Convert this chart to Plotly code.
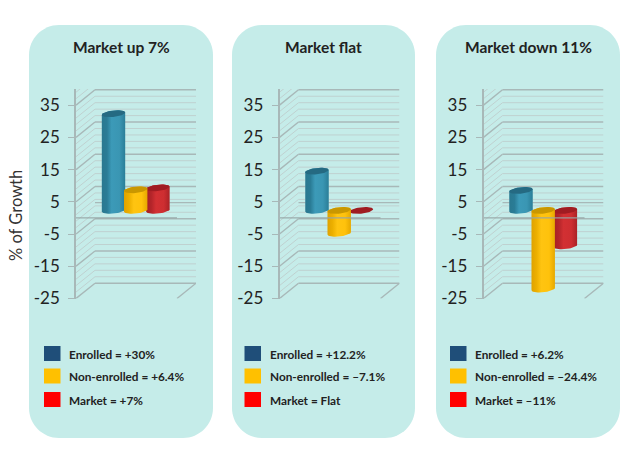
import numpy as np
import plotly.graph_objects as go

# ---- data ----
panel_titles = ["Market up 7%", "Market flat", "Market down 11%"]
series_names = ["Enrolled", "Non-enrolled", "Market"]
enrolled = [30, 12.2, 6.2]
non_enrolled = [6.4, -7.1, -24.4]
market = [7, 0, -11]
legend_enrolled = ["Enrolled = +30%", "Enrolled = +12.2%", "Enrolled = +6.2%"]
legend_non = ["Non-enrolled = +6.4%", "Non-enrolled = –7.1%", "Non-enrolled = –24.4%"]
legend_market = ["Market = +7%", "Market = Flat", "Market = –11%"]
y_ticks = [35, 25, 15, 5, -5, -15, -25]
y_title = "% of Growth"

# ---- layout constants (pixels in the 633x460 page) ----
W, H = 633, 460
FONT = "Lato"
panel_boxes = [(29, 213), (232, 415), (436, 620)]
legend_left = [44, 244.5, 450]
PANEL_TOP, PANEL_BOTTOM, RADIUS = 25, 438, 30
axis_left = [76, 279.5, 483.5]
DOMAIN_W = 120
Y_TOP_PX, Y_BOT_PX = 89.0, 298.5
Y_MIN, Y_MAX = -25, 40
PX_PER_UNIT = (Y_BOT_PX - Y_TOP_PX) / (Y_MAX - Y_MIN)
X_UNIT = 22.2
FIRST_CENTER = 37.5
x0 = -FIRST_CENTER / X_UNIT
x1 = (DOMAIN_W - FIRST_CENTER) / X_UNIT
DEPTH_X = 19 / X_UNIT
DEPTH_Y = 15.3 / PX_PER_UNIT
WALL_W = 101 / X_UNIT
LIFT = 7.5 / PX_PER_UNIT
HALF_W = 11.7 / X_UNIT
HALF_H = 3.2 / PX_PER_UNIT
TILT = 1.2 / PX_PER_UNIT

MINOR = "#BFD1D0"
MAJOR = "#A8B8B8"
INK = "#222222"

styles = {
    "Enrolled": dict(swatch="#1F4E79", cap="#256A82", grad=["#2A7890", "#2A7C96", "#3C9AB8", "#3A96B3", "#2A7E98"]),
    "Non-enrolled": dict(swatch="#FFC000", cap="#C99700", grad=["#DFA200", "#EDB000", "#FFC411", "#FFC20C", "#E6A800"]),
    "Market": dict(swatch="#FF0000", cap="#A01C22", grad=["#A52024", "#B4252A", "#D23033", "#CE2E31", "#AA2226"]),
}


def fx(px):
    return px / W


def fy(px):
    return 1 - px / H


def rounded(xa, xb, ya, yb, r):
    k = 0.45 * r
    return (
        f"M {fx(xa + r)} {fy(ya)} L {fx(xb - r)} {fy(ya)} "
        f"C {fx(xb - k)} {fy(ya)} {fx(xb)} {fy(ya + k)} {fx(xb)} {fy(ya + r)} "
        f"L {fx(xb)} {fy(yb - r)} "
        f"C {fx(xb)} {fy(yb - k)} {fx(xb - k)} {fy(yb)} {fx(xb - r)} {fy(yb)} "
        f"L {fx(xa + r)} {fy(yb)} "
        f"C {fx(xa + k)} {fy(yb)} {fx(xa)} {fy(yb - k)} {fx(xa)} {fy(yb - r)} "
        f"L {fx(xa)} {fy(ya + r)} "
        f"C {fx(xa)} {fy(ya + k)} {fx(xa + k)} {fy(ya)} {fx(xa + r)} {fy(ya)} Z"
    )


def segments(pairs):
    xs, ys = [], []
    for (a, b), (c, d) in pairs:
        xs += [a, c, None]
        ys += [b, d, None]
    return xs, ys


fig = go.Figure()
shapes, annotations = [], []
layout_axes = {}

for p, title in enumerate(panel_titles):
    suffix = "" if p == 0 else str(p + 1)
    xref, yref = f"x{suffix}", f"y{suffix}"
    left = axis_left[p]
    layout_axes[f"xaxis{suffix}"] = dict(
        domain=[fx(left), fx(left + DOMAIN_W)], range=[x0, x1], anchor=yref,
        visible=False, fixedrange=True, automargin=False,
    )
    layout_axes[f"yaxis{suffix}"] = dict(
        domain=[fy(Y_BOT_PX), fy(Y_TOP_PX)], range=[Y_MIN, Y_MAX], anchor=xref,
        tickmode="array", tickvals=y_ticks, ticktext=[str(t) for t in y_ticks],
        ticks="outside", ticklen=6, tickcolor=MAJOR, tickwidth=1,
        ticklabelstandoff=5, automargin=False,
        tickfont=dict(family=FONT, size=17, color=INK),
        showgrid=False, zeroline=False, showline=True, linecolor=MAJOR, linewidth=1.5,
    )

    # panel + title + legend
    xa, xb = panel_boxes[p]
    shapes.append(dict(type="path", xref="paper", yref="paper", layer="below",
                       path=rounded(xa, xb, PANEL_TOP, PANEL_BOTTOM, RADIUS),
                       fillcolor="#C5ECE9", line=dict(width=0)))
    annotations.append(dict(xref="paper", yref="paper", x=fx((xa + xb) / 2), y=fy(47),
                            xanchor="center", yanchor="middle",
                            text=f"<b>{title}</b>", showarrow=False,
                            font=dict(family=FONT, size=15.5, color=INK)))
    sw_left = legend_left[p]
    rows = [(legend_enrolled[p], "Enrolled", 346), (legend_non[p], "Non-enrolled", 368.5),
            (legend_market[p], "Market", 392)]
    for label, name, top in rows:
        shapes.append(dict(type="rect", xref="paper", yref="paper", layer="above",
                           x0=fx(sw_left), x1=fx(sw_left + 16.5), y0=fy(top), y1=fy(top + 15),
                           fillcolor=styles[name]["swatch"], line=dict(width=0)))
        annotations.append(dict(xref="paper", yref="paper", x=fx(sw_left + 25), y=fy(top + 8),
                                xanchor="left", yanchor="middle", text=f"<b>{label}</b>", showarrow=False,
                                borderpad=0, borderwidth=0,
                                font=dict(family=FONT, size=11.8, color=INK)))

    # walls
    levels = list(range(-25, 40, 2))
    back_l, back_r = x0 + DEPTH_X, x0 + DEPTH_X + WALL_W
    minor_lines = []
    major_lines = []
    for v in levels:
        target = major_lines if (v + 25) % 10 == 0 else minor_lines
        target.append(((x0, v), (back_l, v + DEPTH_Y)))
        target.append(((back_l, v + DEPTH_Y), (back_r, v + DEPTH_Y)))
    major_lines.append(((back_l, DEPTH_Y), (back_r, DEPTH_Y)))
    major_lines.append(((back_r - DEPTH_X, Y_MIN), (back_r, Y_MIN + DEPTH_Y)))
    for lines, color, width in ((minor_lines, MINOR, 1), (major_lines, MAJOR, 1.4)):
        sx, sy = segments(lines)
        fig.add_trace(go.Scatter(x=sx, y=sy, mode="lines", xaxis=xref, yaxis=yref,
                                 line=dict(color=color, width=width), cliponaxis=False,
                                 showlegend=False, hoverinfo="skip"))

    # cylinders
    values = {"Enrolled": enrolled[p], "Non-enrolled": non_enrolled[p], "Market": market[p]}
    positions = {name: i for i, name in enumerate(series_names)}
    for name in ("Market", "Enrolled", "Non-enrolled"):
        v, pos, st = values[name], positions[name], styles[name]
        fig.add_trace(go.Bar(x=[pos], y=[v], base=[LIFT], width=2 * HALF_W * 0.96,
                             xaxis=xref, yaxis=yref, name=name, showlegend=False,
                             marker=dict(color=st["grad"][2], line=dict(width=0))))
        lo, hi = min(LIFT, LIFT + v), max(LIFT, LIFT + v)
        t = np.linspace(np.pi, 2 * np.pi, 24)
        cx, cy = np.cos(t), np.sin(t)
        bx = pos + HALF_W * cx
        by = lo + HALF_H * cy + TILT * cx
        tx = pos - HALF_W * cx
        ty = hi - HALF_H * cy - TILT * cx
        if v != 0:
            fig.add_trace(go.Scatter(
                x=np.r_[bx, tx], y=np.r_[by, ty], mode="lines", fill="toself",
                xaxis=xref, yaxis=yref, line=dict(width=0), showlegend=False,
                hoverinfo="skip", cliponaxis=False,
                fillgradient=dict(type="horizontal", colorscale=[
                    [0, st["grad"][0]], [0.22, st["grad"][1]], [0.42, st["grad"][2]],
                    [0.75, st["grad"][3]], [1, st["grad"][4]]]),
            ))
        e = np.linspace(0, 2 * np.pi, 48)
        fig.add_trace(go.Scatter(
            x=pos + HALF_W * np.cos(e), y=hi + HALF_H * np.sin(e) + TILT * np.cos(e),
            mode="lines", fill="toself", fillcolor=st["cap"], line=dict(width=0),
            xaxis=xref, yaxis=yref, showlegend=False, hoverinfo="skip", cliponaxis=False,
        ))

    # front zero line sits over the cylinders
    sx, sy = segments([((x0, 0), (x0 + WALL_W, 0))])
    fig.add_trace(go.Scatter(x=sx, y=sy, mode="lines", xaxis=xref, yaxis=yref,
                             line=dict(color="rgba(150,165,165,0.9)", width=1.4),
                             cliponaxis=False, showlegend=False, hoverinfo="skip"))

annotations.append(dict(xref="paper", yref="paper", x=fx(16), y=fy(216), text=y_title,
                        xanchor="center", yanchor="middle",
                        textangle=-90, showarrow=False,
                        font=dict(family=FONT, size=16.5, color="#333333")))

fig.update_layout(
    width=W, height=H, autosize=False,
    margin=dict(l=0, r=0, t=0, b=0, pad=0, autoexpand=False),
    paper_bgcolor="white", plot_bgcolor="rgba(0,0,0,0)",
    barmode="overlay", showlegend=False,
    shapes=shapes, annotations=annotations, **layout_axes,
)
fig.write_html("out.html", config={"displayModeBar": False},
               default_width=f"{W}px", default_height=f"{H}px",
               post_script="document.body.style.margin='0';document.body.style.overflow='hidden';")
